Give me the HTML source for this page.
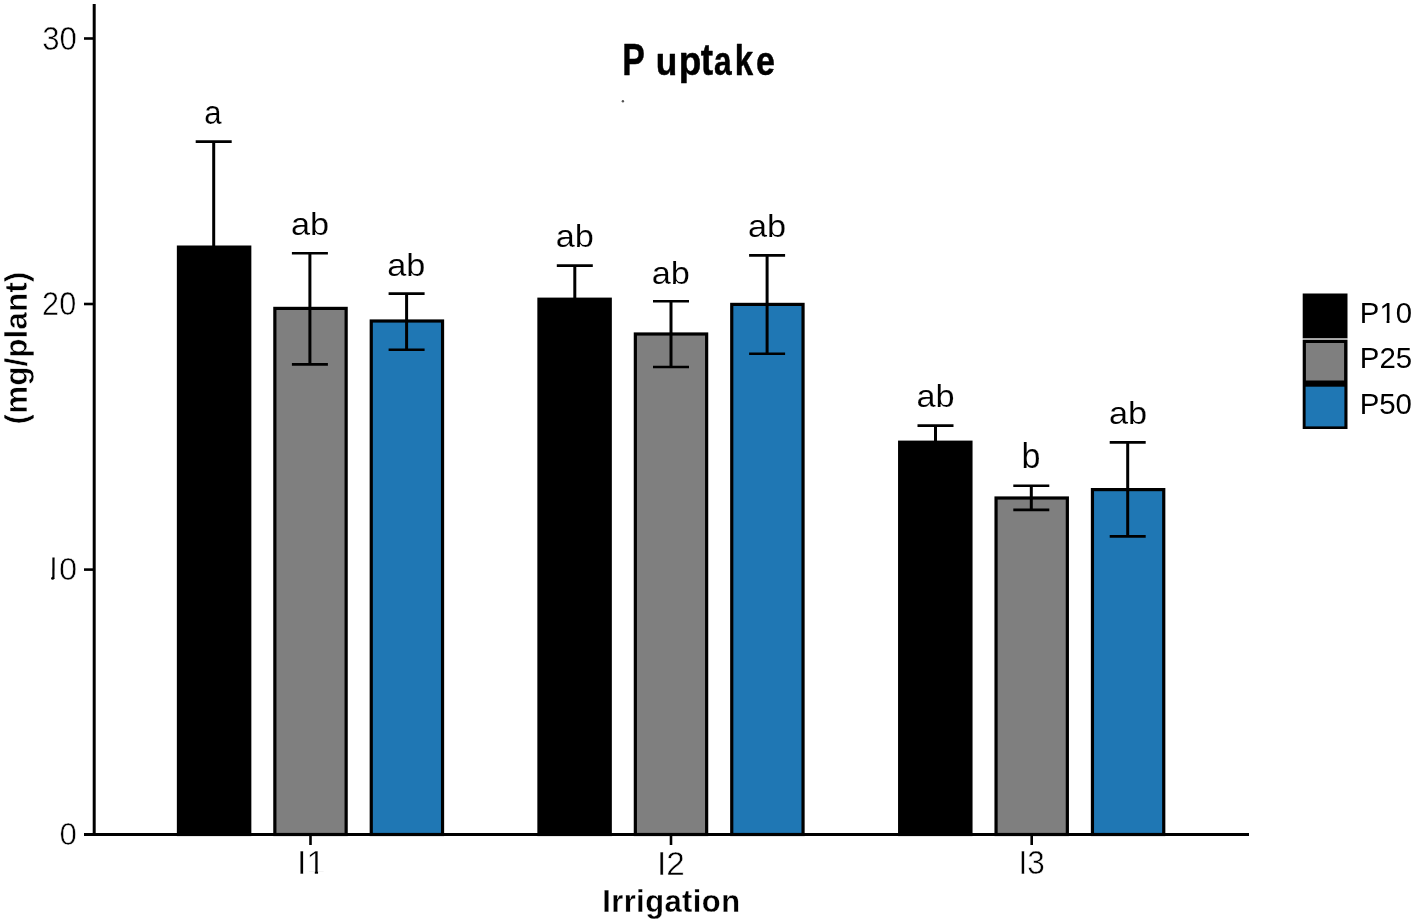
<!DOCTYPE html><html><head><meta charset="utf-8"><style>html,body{margin:0;padding:0;background:#fff;overflow:hidden;}svg{display:block;will-change:transform;}</style></head><body>
<svg width="1417" height="923" viewBox="0 0 1417 923" font-family='"Liberation Sans", sans-serif'>
<rect x="0" y="0" width="1417" height="923" fill="#fff"/>
<rect x="178.45" y="247.10" width="71.30" height="587.40" fill="#000000" stroke="#000" stroke-width="3.2"/>
<rect x="274.85" y="308.40" width="71.30" height="526.10" fill="#7f7f7f" stroke="#000" stroke-width="3.2"/>
<rect x="371.25" y="321.00" width="71.30" height="513.50" fill="#1f77b4" stroke="#000" stroke-width="3.2"/>
<rect x="538.95" y="299.20" width="71.30" height="535.30" fill="#000000" stroke="#000" stroke-width="3.2"/>
<rect x="635.35" y="334.00" width="71.30" height="500.50" fill="#7f7f7f" stroke="#000" stroke-width="3.2"/>
<rect x="731.75" y="304.40" width="71.30" height="530.10" fill="#1f77b4" stroke="#000" stroke-width="3.2"/>
<rect x="899.65" y="442.20" width="71.30" height="392.30" fill="#000000" stroke="#000" stroke-width="3.2"/>
<rect x="996.05" y="498.00" width="71.30" height="336.50" fill="#7f7f7f" stroke="#000" stroke-width="3.2"/>
<rect x="1092.45" y="489.60" width="71.30" height="344.90" fill="#1f77b4" stroke="#000" stroke-width="3.2"/>
<line x1="213.70" y1="141.60" x2="213.70" y2="350.00" stroke="#000" stroke-width="3.0"/>
<line x1="195.70" y1="141.60" x2="231.70" y2="141.60" stroke="#000" stroke-width="2.6"/>
<line x1="195.70" y1="350.00" x2="231.70" y2="350.00" stroke="#000" stroke-width="2.6"/>
<text transform="translate(204.33,123.75) scale(0.9576,1)" font-size="32.45" fill="#000" stroke="#fff" stroke-width="0.15">a</text>
<line x1="309.90" y1="253.20" x2="309.90" y2="364.40" stroke="#000" stroke-width="3.0"/>
<line x1="291.90" y1="253.20" x2="327.90" y2="253.20" stroke="#000" stroke-width="2.6"/>
<line x1="291.90" y1="364.40" x2="327.90" y2="364.40" stroke="#000" stroke-width="2.6"/>
<text transform="translate(290.98,234.86) scale(1.0820,1)" font-size="31.70" fill="#000" stroke="#fff" stroke-width="0.15">ab</text>
<line x1="406.60" y1="293.60" x2="406.60" y2="349.80" stroke="#000" stroke-width="3.0"/>
<line x1="388.60" y1="293.60" x2="424.60" y2="293.60" stroke="#000" stroke-width="2.6"/>
<line x1="388.60" y1="349.80" x2="424.60" y2="349.80" stroke="#000" stroke-width="2.6"/>
<text transform="translate(387.23,276.36) scale(1.0820,1)" font-size="31.70" fill="#000" stroke="#fff" stroke-width="0.15">ab</text>
<line x1="574.80" y1="265.60" x2="574.80" y2="330.00" stroke="#000" stroke-width="3.0"/>
<line x1="556.80" y1="265.60" x2="592.80" y2="265.60" stroke="#000" stroke-width="2.6"/>
<line x1="556.80" y1="330.00" x2="592.80" y2="330.00" stroke="#000" stroke-width="2.6"/>
<text transform="translate(555.78,247.46) scale(1.0820,1)" font-size="31.70" fill="#000" stroke="#fff" stroke-width="0.15">ab</text>
<line x1="671.00" y1="301.30" x2="671.00" y2="367.00" stroke="#000" stroke-width="3.0"/>
<line x1="653.00" y1="301.30" x2="689.00" y2="301.30" stroke="#000" stroke-width="2.6"/>
<line x1="653.00" y1="367.00" x2="689.00" y2="367.00" stroke="#000" stroke-width="2.6"/>
<text transform="translate(651.63,283.66) scale(1.0820,1)" font-size="31.70" fill="#000" stroke="#fff" stroke-width="0.15">ab</text>
<line x1="767.10" y1="255.40" x2="767.10" y2="353.80" stroke="#000" stroke-width="3.0"/>
<line x1="749.10" y1="255.40" x2="785.10" y2="255.40" stroke="#000" stroke-width="2.6"/>
<line x1="749.10" y1="353.80" x2="785.10" y2="353.80" stroke="#000" stroke-width="2.6"/>
<text transform="translate(747.88,236.96) scale(1.0820,1)" font-size="31.70" fill="#000" stroke="#fff" stroke-width="0.15">ab</text>
<line x1="935.50" y1="425.60" x2="935.50" y2="456.00" stroke="#000" stroke-width="3.0"/>
<line x1="917.50" y1="425.60" x2="953.50" y2="425.60" stroke="#000" stroke-width="2.6"/>
<line x1="917.50" y1="456.00" x2="953.50" y2="456.00" stroke="#000" stroke-width="2.6"/>
<text transform="translate(916.48,407.46) scale(1.0820,1)" font-size="31.70" fill="#000" stroke="#fff" stroke-width="0.15">ab</text>
<line x1="1031.30" y1="485.70" x2="1031.30" y2="509.90" stroke="#000" stroke-width="3.0"/>
<line x1="1013.30" y1="485.70" x2="1049.30" y2="485.70" stroke="#000" stroke-width="2.6"/>
<line x1="1013.30" y1="509.90" x2="1049.30" y2="509.90" stroke="#000" stroke-width="2.6"/>
<text transform="translate(1021.61,468.23) scale(0.9969,1)" font-size="34.22" fill="#000" stroke="#fff" stroke-width="0.15">b</text>
<line x1="1127.70" y1="442.40" x2="1127.70" y2="536.40" stroke="#000" stroke-width="3.0"/>
<line x1="1109.70" y1="442.40" x2="1145.70" y2="442.40" stroke="#000" stroke-width="2.6"/>
<line x1="1109.70" y1="536.40" x2="1145.70" y2="536.40" stroke="#000" stroke-width="2.6"/>
<text transform="translate(1108.98,424.26) scale(1.0820,1)" font-size="31.70" fill="#000" stroke="#fff" stroke-width="0.15">ab</text>
<line x1="94.2" y1="4" x2="94.2" y2="836" stroke="#000" stroke-width="3"/>
<line x1="84" y1="834.6" x2="1249" y2="834.6" stroke="#000" stroke-width="3"/>
<line x1="84" y1="38.5" x2="94" y2="38.5" stroke="#000" stroke-width="2.6"/>
<line x1="84" y1="304" x2="94" y2="304" stroke="#000" stroke-width="2.6"/>
<line x1="84" y1="569.6" x2="94" y2="569.6" stroke="#000" stroke-width="2.6"/>
<line x1="84" y1="834.7" x2="94" y2="834.7" stroke="#000" stroke-width="2.6"/>
<text transform="translate(42.31,50.02) scale(0.9440,1)" font-size="32.96" fill="#000" stroke="#fff" stroke-width="0.50">30</text>
<text transform="translate(42.12,314.62) scale(0.9375,1)" font-size="32.68" fill="#000" stroke="#fff" stroke-width="0.50">20</text>
<text transform="translate(58.94,579.53) scale(1.0206,1)" font-size="31.97" fill="#000" stroke="#fff" stroke-width="0.50">0</text>
<path d="M52.4 557.4 L54.6 557.4 L54.5 579 L52.3 579 Z" fill="#000"/><circle cx="52.6" cy="578.2" r="1.5" fill="#000"/>
<text transform="translate(59.60,845.45) scale(1.0242,1)" font-size="30.42" fill="#000" stroke="#fff" stroke-width="0.50">0</text>
<line x1="310.5" y1="834" x2="310.5" y2="845" stroke="#000" stroke-width="2.6"/>
<line x1="671.0" y1="834" x2="671.0" y2="845" stroke="#000" stroke-width="2.6"/>
<line x1="1031.7" y1="834" x2="1031.7" y2="845" stroke="#000" stroke-width="2.6"/>
<text transform="translate(297.12,874.45) scale(0.9941,1)" font-size="33.91" fill="#000" stroke="#fff" stroke-width="0.50">I1</text>
<rect x="307.84" y="871.23" width="6.98" height="4.41" fill="#fff"/>
<rect x="318.05" y="871.23" width="6.64" height="4.41" fill="#fff"/>
<text transform="translate(656.95,874.65) scale(0.9777,1)" font-size="34.14" fill="#000" stroke="#fff" stroke-width="0.50">I2</text>
<text transform="translate(1018.41,874.32) scale(0.9498,1)" font-size="33.24" fill="#000" stroke="#fff" stroke-width="0.50">I3</text>
<text transform="translate(622.15,75.48) scale(0.7506,1)" font-size="45.11" font-weight="bold" fill="#000" stroke="#000" stroke-width="0.50" stroke-linejoin="round">P</text>
<text transform="translate(655.73,74.86) scale(0.8981,1)" font-size="39.26" font-weight="bold" fill="#000" stroke="#000" stroke-width="0.50" stroke-linejoin="round">u</text>
<text transform="translate(678.74,74.84) scale(0.9136,1)" font-size="40.53" font-weight="bold" fill="#000" stroke="#000" stroke-width="0.50" stroke-linejoin="round">p</text>
<text transform="translate(700.78,74.81) scale(0.8443,1)" font-size="43.94" font-weight="bold" fill="#000" stroke="#000" stroke-width="0.50" stroke-linejoin="round">t</text>
<text transform="translate(714.10,74.84) scale(0.7748,1)" font-size="40.91" font-weight="bold" fill="#000" stroke="#000" stroke-width="0.50" stroke-linejoin="round">a</text>
<text transform="translate(734.64,75.25) scale(0.7791,1)" font-size="42.34" font-weight="bold" fill="#000" stroke="#000" stroke-width="0.50" stroke-linejoin="round">k</text>
<text transform="translate(755.89,74.84) scale(0.8301,1)" font-size="40.91" font-weight="bold" fill="#000" stroke="#000" stroke-width="0.50" stroke-linejoin="round">e</text>
<text transform="translate(602.14,911.94) scale(0.9621,1)" font-size="32.13" font-weight="bold" fill="#000" letter-spacing="0.464" stroke="#fff" stroke-width="0.30">Irrigation</text>
<text transform="translate(27.00,424.38) rotate(-90) scale(0.9873,1)" font-size="32.00" font-weight="bold" stroke="#fff" stroke-width="0.6">(mg/plant)</text>
<circle cx="622.9" cy="101.3" r="1.2" fill="#555"/>
<rect x="1302.7" y="293.5" width="44.8" height="44.9" fill="#000"/>
<rect x="1302.7" y="338.6" width="44.8" height="1.2" fill="#b0b0b0"/>
<rect x="1302.7" y="339.9" width="44.8" height="89.1" fill="#000"/>
<rect x="1305.9" y="343.0" width="38.2" height="37.5" fill="#7f7f7f"/>
<rect x="1305.6" y="386.7" width="38.8" height="39.7" fill="#1f77b4"/>
<text transform="translate(1359.86,322.71) scale(0.9994,1)" font-size="29.30" fill="#000">P10</text>
<rect x="1380.56" y="319.92" width="6.06" height="3.81" fill="#fff"/>
<rect x="1389.43" y="319.92" width="5.77" height="3.81" fill="#fff"/>
<text transform="translate(1359.85,367.70) scale(0.9845,1)" font-size="29.86" fill="#000">P25</text>
<text transform="translate(1359.65,413.60) scale(0.9708,1)" font-size="30.28" fill="#000">P50</text>
</svg></body></html>
